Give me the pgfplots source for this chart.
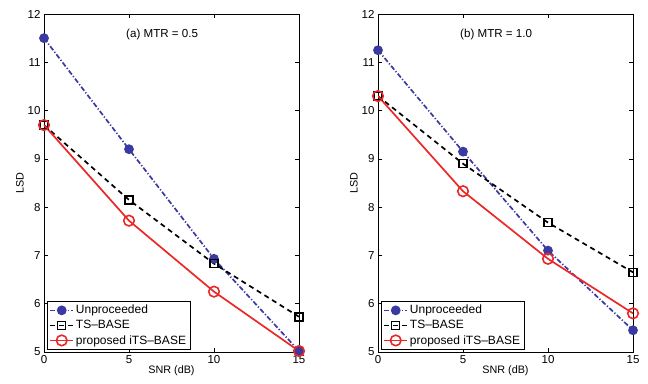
\documentclass[border=0pt]{standalone}
\usepackage{fontspec}
\setmainfont{Liberation Sans}
\usepackage{pgfplots}
\pgfplotsset{compat=1.18}
\definecolor{ublue}{RGB}{58,58,160}
\definecolor{ured}{RGB}{235,40,40}
\pgfplotsset{
  myax/.style={
    scale only axis, width=255pt, height=338pt,
    xmin=0, xmax=15, ymin=5, ymax=12,
    xtick={0,5,10,15}, ytick={5,6,7,8,9,10,11,12},
    tick align=inside, tick pos=both,
    major tick length=4pt,
    axis line style={line width=0.8pt},
    every tick/.style={black, line width=0.6pt},
    tick label style={font=\fontsize{11.5}{14}\selectfont},
    label style={font=\fontsize{10.8}{12}\selectfont},
    /pgf/number format/assume math mode=true,
    xlabel={SNR (dB)}, ylabel={LSD},
    xlabel style={yshift=5pt},
    ylabel style={yshift=-3pt},
    legend style={at={(0.012,0.006)}, anchor=south west, font=\fontsize{12}{14}\selectfont,
      draw=black, line width=0.9pt, inner sep=2pt, row sep=1pt,
      legend cell align=left},
    legend image code/.code={
      \draw[mark repeat=2,mark phase=2] plot coordinates {(0cm,0cm) (0.4cm,0cm) (0.8cm,0cm)};},
  },
  unp/.style={color=ublue, line width=1.7pt, dash pattern=on 5pt off 2pt on 1.2pt off 2pt, mark=*, mark size=4pt, mark options={solid, fill=ublue}},
  tsb/.style={color=black, line width=1.7pt, dash pattern=on 5pt off 4pt, mark=square, mark size=4pt, mark options={solid, line width=1.5pt}},
  its/.style={color=ured, line width=1.7pt, mark=o, mark size=5.3pt, mark options={solid, line width=1.6pt}},
}
\begin{document}
\begin{tikzpicture}
\path[use as bounding box] (0pt,0pt) rectangle (648pt,383pt);
\begin{axis}[myax, at={(44pt,31pt)}, anchor=south west]
\addplot[unp] coordinates {(0,11.5) (5,9.2) (10,6.93) (15,5.02)};
\addlegendentry{Unproceeded}
\addplot[tsb] coordinates {(0,9.7) (5,8.15) (10,6.83) (15,5.73)};
\addlegendentry{TS--BASE}
\addplot[its] coordinates {(0,9.7) (5,7.72) (10,6.25) (15,5.02)};
\addlegendentry{proposed iTS--BASE}
\node[font=\fontsize{11.6}{13}\selectfont] at (axis cs:6.95,11.57) {(a) MTR = 0.5};
\end{axis}
\begin{axis}[myax, at={(378pt,31pt)}, anchor=south west]
\addplot[unp] coordinates {(0,11.25) (5,9.15) (10,7.1) (15,5.45)};
\addlegendentry{Unproceeded}
\addplot[tsb] coordinates {(0,10.3) (5,8.9) (10,7.68) (15,6.65)};
\addlegendentry{TS--BASE}
\addplot[its] coordinates {(0,10.3) (5,8.33) (10,6.93) (15,5.8)};
\addlegendentry{proposed iTS--BASE}
\node[font=\fontsize{11.6}{13}\selectfont] at (axis cs:6.95,11.57) {(b) MTR = 1.0};
\end{axis}
\end{tikzpicture}
\end{document}
